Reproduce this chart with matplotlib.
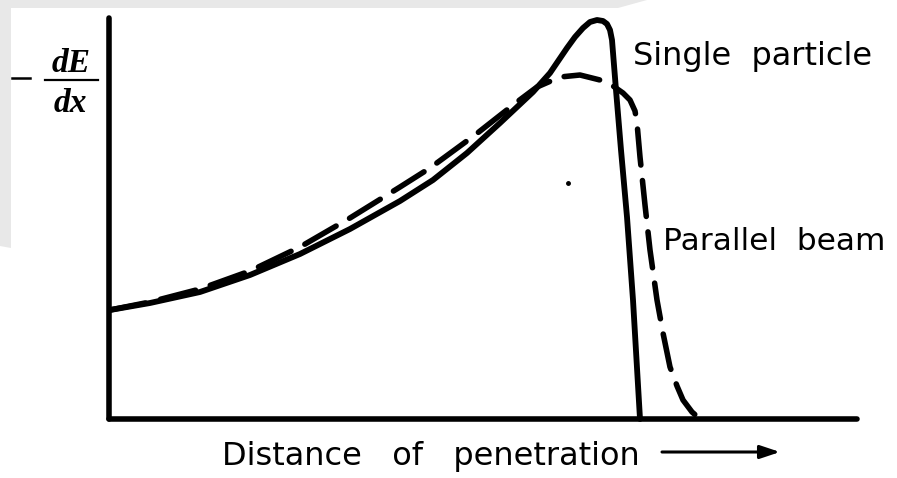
import matplotlib
matplotlib.use("Agg")
import matplotlib.pyplot as plt
from matplotlib.patches import Polygon
from matplotlib.lines import Line2D

# Bragg curve (x = distance, y = -dE/dx, arbitrary units)
single_x = [1, 41, 91, 141, 191, 241, 291, 324, 358, 391, 424, 441, 458, 466,
            474, 481, 488, 494, 498, 501, 503, 505, 507, 512, 518, 524, 531]
single_y = [109, 116, 127, 144, 165, 190, 218, 239, 266, 296, 327, 346, 371, 382,
            391, 397, 399, 398, 395, 389, 379, 354, 329, 269, 202, 119, 0]

beam_x = [1, 41, 91, 141, 191, 241, 291, 321, 366, 408, 428, 451, 471, 491,
          504, 514, 521, 526, 528, 531, 536, 541, 548, 554, 561, 568, 574, 583, 591]
beam_y = [109, 117, 130, 148, 172, 201, 232, 251, 284, 317, 332, 342, 344, 339,
          333, 326, 319, 308, 296, 262, 214, 169, 119, 86, 52, 33, 19, 7, 0]

speck = (459, 236)

W, H = 897, 478


def fig_xy(px, py):
    return px / W, 1 - py / H


def main():
    fig = plt.figure(figsize=(W / 100, H / 100), dpi=100)
    fig.patch.set_facecolor("white")

    # grey scan border
    border = [(0, 0), (647, 0), (618, 8), (11, 8), (11, 248), (0, 246)]
    fig.patches.append(Polygon([fig_xy(*p) for p in border], closed=True,
                               transform=fig.transFigure, facecolor="#e8e8e8",
                               edgecolor="none", zorder=0))

    ax = fig.add_axes([109 / W, 59 / H, 748 / W, 401 / H])
    ax.set_xlim(0, 748)
    ax.set_ylim(0, 401)
    ax.patch.set_alpha(0)
    for side in ("top", "right"):
        ax.spines[side].set_visible(False)
    for side in ("left", "bottom"):
        ax.spines[side].set_linewidth(4)
        ax.spines[side].set_capstyle("round")
    ax.set_xticks([])
    ax.set_yticks([])

    ax.plot(single_x, single_y, color="black", lw=4.2, solid_capstyle="round",
            solid_joinstyle="round", clip_on=False)
    ax.plot(beam_x, beam_y, color="black", lw=4.0, linestyle=(0, (6.5, 2.8)),
            dash_capstyle="round", dash_joinstyle="round", clip_on=False)
    ax.plot(*speck, "o", color="black", ms=2.5)

    sans = dict(family="DejaVu Sans", va="baseline", ha="left")
    ax.text(524, 354, "Single  particle", fontsize=23, **sans)
    ax.text(554, 169, "Parallel  beam", fontsize=22.5, **sans)

    # axis labels
    fig.text(*fig_xy(222, 465), "Distance   of   penetration", fontsize=23, **sans)
    ax.annotate("", xy=fig_xy(780, 452), xytext=fig_xy(662, 452),
                xycoords="figure fraction", textcoords="figure fraction",
                arrowprops=dict(arrowstyle="-|>,head_length=1.2,head_width=0.4",
                                color="black", lw=2.2, shrinkA=0, shrinkB=0))

    serif = dict(family="Liberation Serif", style="italic", weight="bold",
                 fontsize=24, ha="center", va="baseline")
    fig.text(*fig_xy(71, 72), "dE", **serif)
    fig.text(*fig_xy(70, 112), "dx", **serif)
    fig.lines.append(Line2D([45 / W, 98 / W], [1 - 80 / H, 1 - 80 / H],
                            transform=fig.transFigure, color="black", lw=1.6))
    # minus sign
    fig.lines.append(Line2D([12 / W, 30 / W], [1 - 78 / H, 1 - 78 / H],
                            transform=fig.transFigure, color="black", lw=1.8))

    fig.savefig("out.png", dpi=100)


if __name__ == "__main__":
    main()
